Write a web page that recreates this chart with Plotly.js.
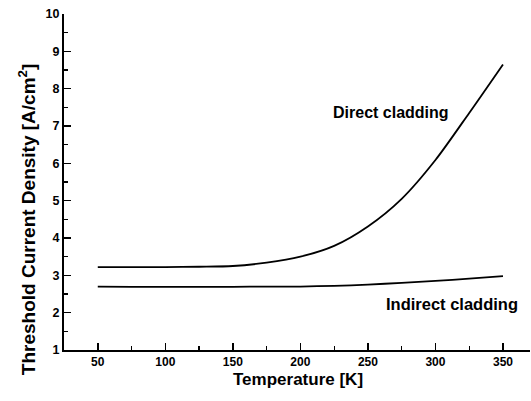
<!DOCTYPE html>
<html>
<head>
<meta charset="utf-8">
<script src="https://cdn.plot.ly/plotly-3.0.1.min.js"></script>
<style>html,body{margin:0;padding:0;background:#fff;}#chart{width:531px;height:401px;}</style>
</head>
<body>
<div id="chart"></div>
<script>
// Data
const temperature = [50, 75, 100, 125, 150, 175, 200, 225, 250, 275, 300, 325, 350];
const directCladding = [3.22, 3.22, 3.22, 3.23, 3.25, 3.34, 3.50, 3.79, 4.31, 5.05, 6.09, 7.35, 8.65];
const indirectCladding = [2.70, 2.69, 2.69, 2.69, 2.69, 2.70, 2.70, 2.72, 2.75, 2.80, 2.85, 2.91, 2.98];
const xTickVals = [50, 100, 150, 200, 250, 300, 350];
const yTickVals = [1, 2, 3, 4, 5, 6, 7, 8, 9, 10];
const labelDirect = {text: "Direct cladding", x: 267, y: 7.35};
const labelIndirect = {text: "Indirect cladding", x: 312, y: 2.23};

const FONT = "Liberation Sans, Arial, Helvetica, sans-serif";

const traces = [
  {x: temperature, y: directCladding, mode: "lines", type: "scatter",
   line: {color: "#000", width: 1.8, shape: "spline", smoothing: 0.8}, hoverinfo: "skip"},
  {x: temperature, y: indirectCladding, mode: "lines", type: "scatter",
   line: {color: "#000", width: 1.8, shape: "spline", smoothing: 0.8}, hoverinfo: "skip"}
];

const layout = {
  width: 531, height: 401,
  margin: {l: 64, r: 1, t: 14, b: 51},
  paper_bgcolor: "#fff", plot_bgcolor: "#fff",
  showlegend: false,
  font: {family: FONT, color: "#000"},
  xaxis: {
    range: [25, 370], showline: true, linecolor: "#000", linewidth: 2,
    showgrid: false, zeroline: false,
    tickmode: "array", tickvals: xTickVals,
    ticks: "inside", ticklen: 7, tickwidth: 1.5, tickcolor: "#000",
    minor: {dtick: 25, tick0: 25, ticks: "inside", ticklen: 4, tickwidth: 1.2, tickcolor: "#000", showgrid: false},
    tickfont: {family: FONT, size: 12, weight: "bold", color: "#000"},
    fixedrange: true
  },
  yaxis: {
    range: [1, 10], showline: true, linecolor: "#000", linewidth: 2,
    showgrid: false, zeroline: false,
    tickmode: "array", tickvals: yTickVals,
    ticks: "inside", ticklen: 7, tickwidth: 1.5, tickcolor: "#000",
    minor: {dtick: 0.5, tick0: 0.5, ticks: "inside", ticklen: 4, tickwidth: 1.2, tickcolor: "#000", showgrid: false},
    tickfont: {family: FONT, size: 12.5, weight: "bold", color: "#000"},
    fixedrange: true
  },
  annotations: [
    {text: labelDirect.text, x: labelDirect.x, y: labelDirect.y, xref: "x", yref: "y",
     showarrow: false, xanchor: "center", yanchor: "middle",
     font: {family: FONT, size: 16, weight: "bold", color: "#000"}},
    {text: labelIndirect.text, x: labelIndirect.x, y: labelIndirect.y, xref: "x", yref: "y",
     showarrow: false, xanchor: "center", yanchor: "middle",
     font: {family: FONT, size: 16.5, weight: "bold", color: "#000"}},
    {text: "Temperature [K]", xref: "paper", yref: "paper", x: 0.502, y: -0.089,
     showarrow: false, xanchor: "center", yanchor: "middle",
     font: {family: FONT, size: 17, weight: "bold", color: "#000"}},
    {text: "Threshold Current Density [A/cm<sup>2</sup>]", xref: "paper", yref: "paper",
     x: -0.079, y: 0.387, textangle: -90,
     showarrow: false, xanchor: "center", yanchor: "middle",
     font: {family: FONT, size: 19, weight: "bold", color: "#000"}}
  ]
};

Plotly.newPlot("chart", traces, layout, {staticPlot: true, displayModeBar: false});
</script>
</body>
</html>
